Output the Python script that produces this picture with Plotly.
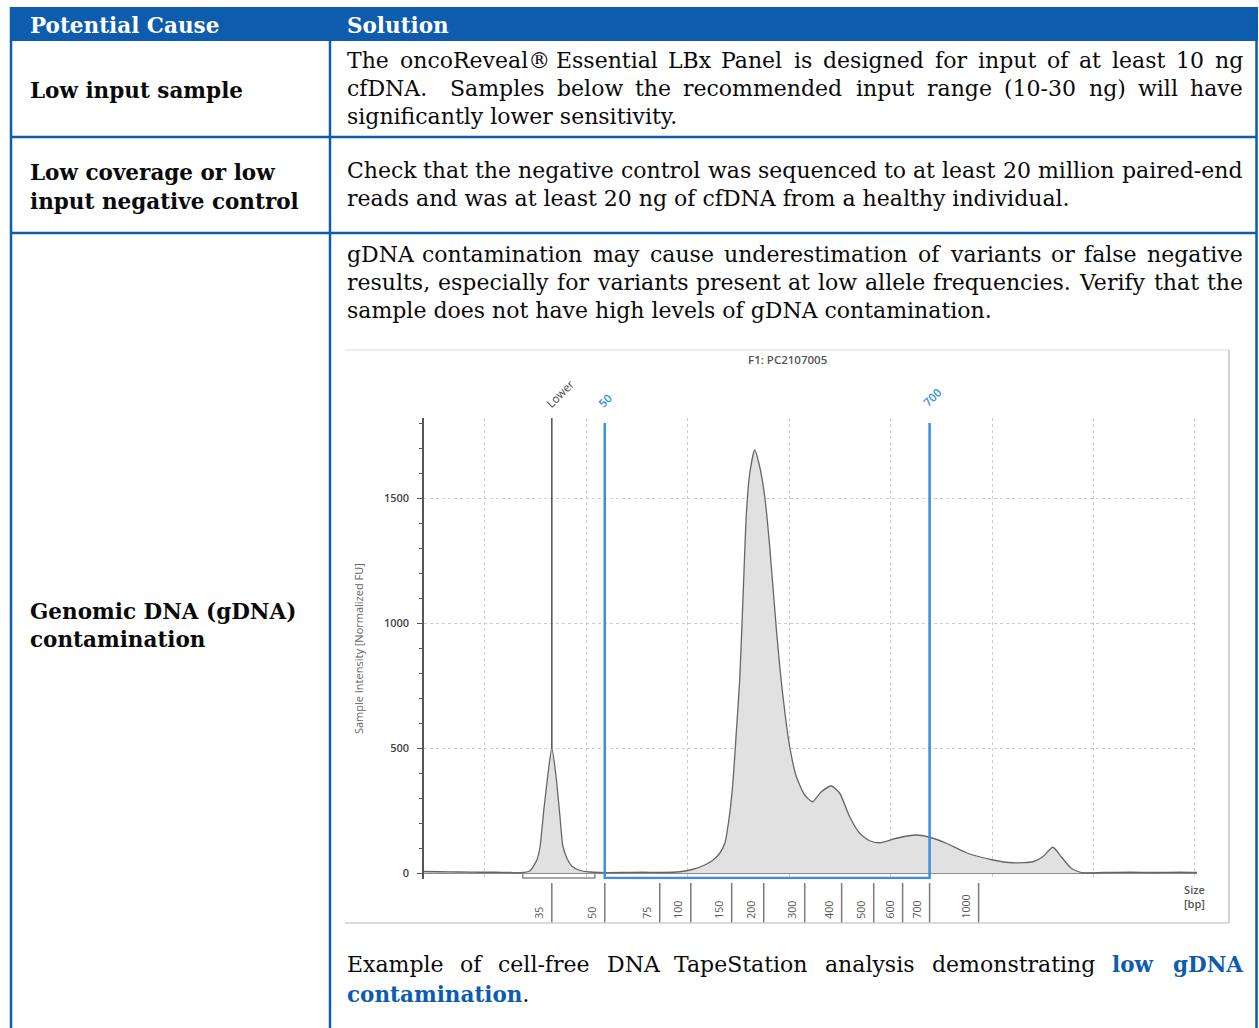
import plotly.graph_objects as go

W, H = 1259, 1028

# ---------------- data ----------------
# electropherogram: migration position (grid units) and intensity [Normalized FU]
position = [0.40, 0.55, 0.75, 0.95, 1.10, 1.25, 1.345,
            1.443, 1.512, 1.542, 1.581, 1.621, 1.660, 1.700, 1.739, 1.768, 1.808, 1.857, 1.936, 2.034, 2.133,
            2.35, 2.55, 2.75,
            2.921, 3.052, 3.167, 3.250, 3.315, 3.365, 3.414, 3.447, 3.480, 3.512, 3.545, 3.578, 3.611, 3.660,
            3.709, 3.759, 3.808, 3.874, 3.939, 4.005, 4.071, 4.153, 4.229, 4.317, 4.416, 4.498, 4.596, 4.695,
            4.793, 4.892, 5.056, 5.253, 5.384, 5.549, 5.746, 6.008, 6.205, 6.402, 6.500, 6.599, 6.682, 6.780,
            6.894, 7.10, 7.35, 7.60, 7.85, 8.02]
intensity = [6, 5, 4, 3, 3, 2, 1,
             8, 52, 100, 252, 392, 500, 392, 232, 110, 60, 28, 10, 4, 2,
             2, 3, 2,
             5, 15, 32, 52, 79, 119, 239, 372, 572, 772, 1105, 1439, 1599, 1692,
             1625, 1505, 1305, 972, 705, 505, 385, 312, 285, 325, 348, 319, 225, 159,
             129, 121, 139, 152, 143, 119, 81, 52, 41, 45, 65, 103, 65, 19,
             0, 2, 3, 2, 3, 2]

ladder_bp = ["35", "50", "75", "100", "150", "200", "300", "400", "500", "600", "700", "1000"]
ladder_pos = [1.660, 2.182, 2.724, 3.030, 3.433, 3.749, 4.153, 4.517, 4.833, 5.118, 5.384, 5.867]

lower_pos = 1.660
lower_peak_height = 500
lower_span = [1.374, 2.084]
region_labels = ["50", "700"]
region_pos = [2.182, 5.384]
y_ticks = [0, 500, 1000, 1500]

header = ["Potential Cause", "Solution"]
causes = [["Low input sample"],
          ["Low coverage or low", "input negative control"],
          ["Genomic DNA (gDNA)", "contamination"]]
solutions = [
    [("The oncoReveal® Essential LBx Panel is designed for input of at least 10 ng", True),
     ("cfDNA.  Samples below the recommended input range (10-30 ng) will have", True),
     ("significantly lower sensitivity.", False)],
    [("Check that the negative control was sequenced to at least 20 million paired-end", True),
     ("reads and was at least 20 ng of cfDNA from a healthy individual.", False)],
    [("gDNA contamination may cause underestimation of variants or false negative", True),
     ("results, especially for variants present at low allele frequencies. Verify that the", True),
     ("sample does not have high levels of gDNA contamination.", False)],
]
caption_words = ["Example", "of", "cell-free", "DNA", "TapeStation", "analysis", "demonstrating"]
caption_bold = ["low", "gDNA"]
caption_line2 = "contamination"

# ---------------- styling ----------------
BLUE = "#0d5cae"
CHART_BLUE = "#3a8ee6"
TEXT = "#0a0a0a"
SERIF = "DejaVu Serif"
BODY_SIZE = 22
BOLD_SIZE = 21.5
SANS = "Open Sans"

# approximate advance widths (per 1000 em) of DejaVu Serif regular
DV = dict(zip("ABCDEFGHIJKLMNOPQRSTUVWXYZ",
              [722, 695, 715, 779, 686, 650, 776, 834, 401, 401, 726, 641, 977, 834, 787, 659, 787, 711, 650, 669,
               812, 722, 1028, 730, 669, 667]))
DV.update(dict(zip("abcdefghijklmnopqrstuvwxyz",
                   [596, 641, 562, 641, 592, 370, 641, 644, 321, 309, 608, 321, 974, 644, 603, 641, 641, 478, 515,
                    400, 644, 590, 849, 588, 590, 542])))
DV.update({c: 636 for c in "0123456789"})
DV.update({" ": 318, ".": 318, ",": 318, "-": 361, "(": 390, ")": 390, "®": 820, ":": 337})
# approximate widths of the bold serif (Times-bold proportions, widened)
TB = dict(zip("ABCDEFGHIJKLMNOPQRSTUVWXYZ",
              [722, 667, 722, 722, 667, 611, 778, 778, 389, 500, 778, 667, 944, 722, 778, 611, 778, 722, 556, 667,
               722, 722, 1000, 722, 722, 667]))
TB.update(dict(zip("abcdefghijklmnopqrstuvwxyz",
                   [500, 556, 444, 556, 444, 333, 500, 556, 278, 333, 556, 278, 833, 556, 500, 556, 556, 444, 389,
                    333, 556, 500, 722, 500, 500, 444])))


def tw(s, table, size, scale=1.0):
    return sum(table.get(c, 600) for c in s) * size / 1000.0 * scale


def px(x):
    return x / W


def py(y):
    return 1 - y / H


annotations = []
DESC = 0.236


def text_at(x, base, text, size, color, anchor="left", family=SERIF, **kw):
    annotations.append(dict(xref="paper", yref="paper", x=px(x), y=py(base + DESC * size),
                            xanchor=anchor, yanchor="bottom", text=text, showarrow=False,
                            borderpad=0, borderwidth=0,
                            font=dict(size=size, family=family, color=color), **kw))


X0, X1 = 347, 1243


def body_line(text, base, justify):
    if not justify:
        text_at(X0, base, text, BODY_SIZE, TEXT)
        return
    words = text.split(" ")
    widths = [tw(w, DV, BODY_SIZE) for w in words]
    gap = (X1 - X0 - sum(widths)) / (len(words) - 1)
    x = X0
    last = len(words) - 1
    for i, w in enumerate(words):
        if w:
            if i == last:
                text_at(X1, base, w, BODY_SIZE, TEXT, anchor="right")
            else:
                text_at(x, base, w, BODY_SIZE, TEXT)
        x += widths[i] + gap


shapes = []


def hline(y, x0, x1, color, width):
    shapes.append(dict(type="line", xref="paper", yref="paper", x0=px(x0), x1=px(x1), y0=py(y), y1=py(y),
                       line=dict(color=color, width=width)))


def vline(x, y0, y1, color, width):
    shapes.append(dict(type="line", xref="paper", yref="paper", x0=px(x), x1=px(x), y0=py(y0), y1=py(y1),
                       line=dict(color=color, width=width)))


# ---- table frame ----
shapes.append(dict(type="rect", xref="paper", yref="paper", x0=px(10), x1=px(1258), y0=py(41), y1=py(7),
                   fillcolor=BLUE, line=dict(width=0), layer="below"))
vline(11, 7, 1030, BLUE, 2.5)
vline(1256.5, 7, 1030, BLUE, 2.5)
vline(330, 41, 1030, BLUE, 2.5)
hline(137, 11, 1257, BLUE, 2.5)
hline(233, 11, 1257, BLUE, 2.5)

# chart image frame
hline(350, 345, 1229, "#e8e8e8", 1.5)
hline(923, 345, 1229, "#cfcfcf", 1.5)
vline(1229, 350, 923, "#d2d2d2", 2)

# ---- table texts ----
text_at(30, 33, "<b>%s</b>" % header[0], 21.5, "white")
text_at(347, 33, "<b>%s</b>" % header[1], 21.5, "white")

cause_bases = [[98], [180, 209], [619, 647]]
for lines, bases in zip(causes, cause_bases):
    for t, b in zip(lines, bases):
        text_at(30, b, "<b>%s</b>" % t, BOLD_SIZE, TEXT)

sol_bases = [[68, 96, 123.5], [178, 206], [262, 290, 318]]
for lines, bases in zip(solutions, sol_bases):
    for (t, j), b in zip(lines, bases):
        body_line(t, b, j)

# caption line 1 (justified, last two words bold blue)
cap_w = [tw(w, DV, BODY_SIZE) for w in caption_words] + [tw(w, TB, BOLD_SIZE, 1.28) for w in caption_bold]
allw = caption_words + caption_bold
gap = (X1 - X0 - sum(cap_w)) / (len(allw) - 1)
x = X0
for i, w in enumerate(allw):
    if i < len(caption_words):
        text_at(x, 972, w, BODY_SIZE, TEXT)
    elif i == len(allw) - 1:
        text_at(X1, 972, "<b>%s</b>" % w, BOLD_SIZE, BLUE, anchor="right")
    else:
        text_at(x, 972, "<b>%s</b>" % w, BOLD_SIZE, BLUE)
    x += cap_w[i] + gap
text_at(X0, 1002, "<span style='color:%s'><b>%s</b></span><span style='color:%s'>.</span>"
        % (BLUE, caption_line2, TEXT), BOLD_SIZE, BLUE)

# ---- chart texts ----
annotations.append(dict(xref="paper", yref="paper", x=px(787), y=py(359), xanchor="center", yanchor="middle",
                        text="F1: PC2107005", showarrow=False,
                        font=dict(size=11.5, family=SANS, color="#555", weight=600)))
annotations.append(dict(xref="x", yref="paper", x=8.0, y=py(896), xanchor="center", yanchor="middle",
                        text="Size<br>[bp]", showarrow=False, align="center",
                        font=dict(size=11, family=SANS, color="#555", weight=600)))
annotations.append(dict(xref="x", yref="y", x=lower_pos, y=1820, xshift=8, yshift=25, textangle=-45,
                        xanchor="center", yanchor="middle", text="Lower", showarrow=False,
                        font=dict(size=11.5, family=SANS, color="#444")))
for lab, p, xs, ys in zip(region_labels, region_pos, [0, 2], [23, 26]):
    annotations.append(dict(xref="x", yref="y", x=p, y=1800, xshift=xs, yshift=ys, textangle=-45,
                            xanchor="center", yanchor="middle", text=lab, showarrow=False,
                            font=dict(size=11.5, family=SANS, color=CHART_BLUE, weight=600)))
for lab, p in zip(ladder_bp, ladder_pos):
    annotations.append(dict(xref="x2", yref="y2", x=p, y=0, xshift=-4, yshift=2, textangle=-90,
                            xanchor="right", yanchor="bottom", text=lab, showarrow=False,
                            font=dict(size=10.5, family=SANS, color="#555")))

# ---------------- figure ----------------
fig = go.Figure()
fig.add_trace(go.Scatter(x=position, y=intensity, mode="lines", fill="tozeroy",
                         fillcolor="#e1e1e1", line=dict(color="#666666", width=1.3, shape="spline", smoothing=0.6),
                         hoverinfo="skip", showlegend=False))
fig.add_trace(go.Scatter(x=[lower_span[0], lower_span[0], lower_span[1], lower_span[1]], y=[0, -20, -20, 0],
                         mode="lines", line=dict(color="#8a8a8a", width=1.5), showlegend=False, hoverinfo="skip"))
fig.add_trace(go.Scatter(x=[lower_pos, lower_pos], y=[lower_peak_height, 1820], mode="lines",
                         line=dict(color="#505050", width=1.5), showlegend=False, hoverinfo="skip"))
fig.add_trace(go.Scatter(x=[region_pos[0], region_pos[0], region_pos[1], region_pos[1]], y=[1800, -20, -20, 1800],
                         mode="lines", line=dict(color=CHART_BLUE, width=2.5), showlegend=False, hoverinfo="skip"))
lx, ly = [], []
for p in ladder_pos:
    lx += [p, p, None]
    ly += [0, 1, None]
fig.add_trace(go.Scatter(x=lx, y=ly, xaxis="x2", yaxis="y2", mode="lines",
                         line=dict(color="#7a7a7a", width=1.5), showlegend=False, hoverinfo="skip"))

xdom = [px(424), px(1197)]
fig.update_layout(
    width=W, height=H, margin=dict(l=0, r=0, t=0, b=0),
    paper_bgcolor="white", plot_bgcolor="white", showlegend=False,
    shapes=shapes, annotations=annotations,
    xaxis=dict(domain=xdom, range=[0.4, 8.02], showgrid=True, gridcolor="#cdcdcd", griddash="dot", gridwidth=1,
               tickmode="linear", tick0=0, dtick=1, showticklabels=False, ticks="", zeroline=False,
               showline=False, fixedrange=True),
    yaxis=dict(domain=[py(879.25), py(418)], range=[-25, 1820], tickmode="array", tickvals=y_ticks,
               showgrid=True, gridcolor="#cdcdcd", griddash="dot", gridwidth=1,
               zeroline=True, zerolinecolor="#8c8c8c", zerolinewidth=2,
               showline=True, linecolor="#555", linewidth=1.5,
               ticks="outside", ticklen=5, tickcolor="#555", tickwidth=1.2, ticklabelstandoff=6,
               minor=dict(tickmode="linear", tick0=0, dtick=100, ticks="outside", ticklen=3,
                          tickcolor="#555", showgrid=False),
               tickfont=dict(size=11, family=SANS, color="#444", weight=600),
               title=dict(text="Sample Intensity [Normalized FU]", standoff=18,
                          font=dict(size=11, family=SANS, color="#666")),
               fixedrange=True),
    xaxis2=dict(domain=xdom, matches="x", anchor="y2", visible=False),
    yaxis2=dict(domain=[py(923), py(883)], range=[0, 1], anchor="x2", visible=False),
)

fig.write_html("out.html", config={"displayModeBar": False},
               post_script="document.body.style.margin='0';document.body.style.overflow='hidden';")
